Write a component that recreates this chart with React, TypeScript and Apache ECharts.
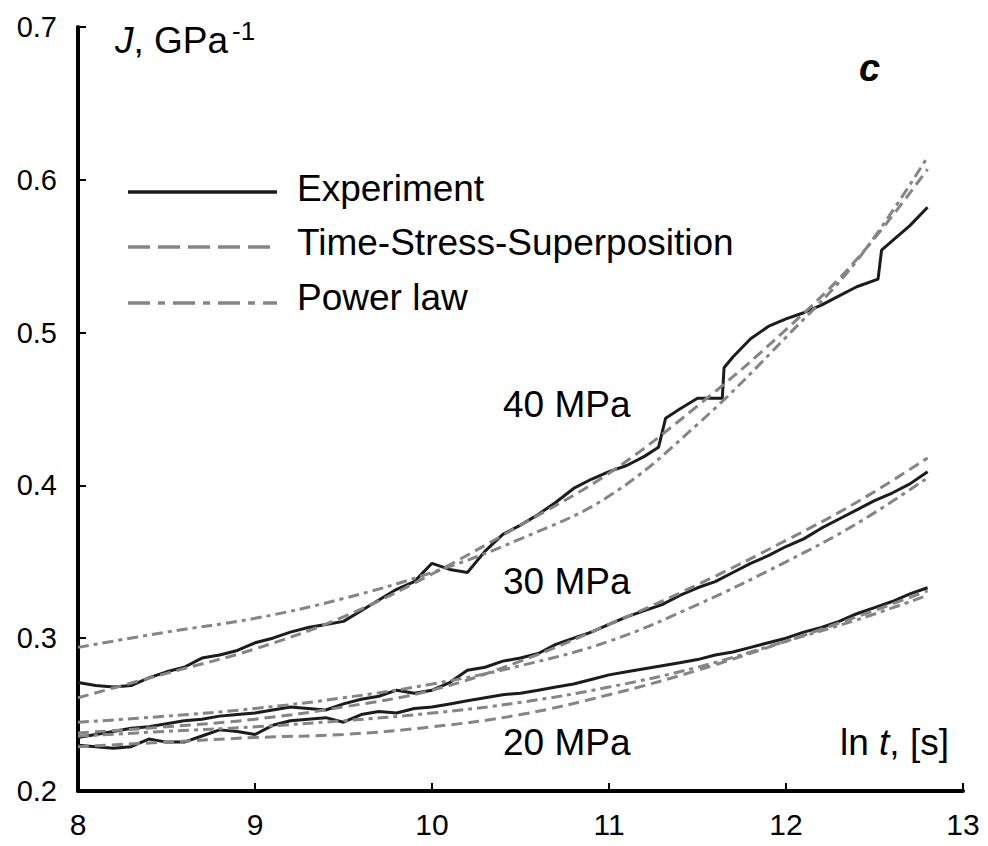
import React, { useEffect, useRef } from "react";
import * as echarts from "echarts";

const FONT = '"Liberation Sans", Arial, Helvetica, sans-serif';

// x (ln t) grid of the experimental records
const expX = [8.0, 8.1, 8.2, 8.3, 8.4, 8.5, 8.6, 8.7, 8.8, 8.9, 9.0, 9.1, 9.2, 9.3, 9.4, 9.5, 9.6, 9.7, 9.8, 9.9,
  10.0, 10.1, 10.2, 10.3, 10.4, 10.5, 10.6, 10.7, 10.8, 10.9, 11.0, 11.1, 11.2, 11.3, 11.4, 11.5, 11.6, 11.7, 11.8, 11.9,
  12.0, 12.1, 12.2, 12.3, 12.4, 12.5, 12.6, 12.7, 12.8];

// 40 MPa experiment has its own grid (steps in the record)
const exp40X = [8.0, 8.1, 8.2, 8.3, 8.4, 8.5, 8.6, 8.7, 8.8, 8.9, 9.0, 9.1, 9.2, 9.3, 9.4, 9.5, 9.6, 9.7, 9.8, 9.9,
  10.0, 10.1, 10.2, 10.3, 10.4, 10.5, 10.6, 10.7, 10.8, 10.9, 11.0, 11.1, 11.2, 11.28, 11.32, 11.4, 11.5, 11.64, 11.65,
  11.7, 11.8, 11.9, 12.0, 12.1, 12.2, 12.3, 12.4, 12.52, 12.54, 12.6, 12.7, 12.8];
const exp40 = [0.271, 0.269, 0.268, 0.269, 0.274, 0.278, 0.281, 0.287, 0.289, 0.292, 0.297, 0.300, 0.304, 0.307, 0.309,
  0.311, 0.318, 0.325, 0.332, 0.337, 0.349, 0.345, 0.343, 0.357, 0.368, 0.374, 0.381, 0.389, 0.398, 0.404, 0.409, 0.413,
  0.419, 0.425, 0.444, 0.450, 0.457, 0.457, 0.477, 0.484, 0.496, 0.504, 0.509, 0.513, 0.518, 0.524, 0.530, 0.535, 0.554,
  0.560, 0.570, 0.582];
const exp30 = [0.235, 0.237, 0.239, 0.241, 0.242, 0.244, 0.246, 0.247, 0.249, 0.250, 0.251, 0.253, 0.255, 0.254, 0.253,
  0.257, 0.260, 0.262, 0.266, 0.264, 0.266, 0.271, 0.279, 0.281, 0.285, 0.287, 0.290, 0.296, 0.300, 0.304, 0.309, 0.314,
  0.318, 0.322, 0.328, 0.333, 0.337, 0.343, 0.349, 0.354, 0.360, 0.365, 0.372, 0.378, 0.384, 0.390, 0.395, 0.401, 0.409];
const exp20 = [0.230, 0.229, 0.228, 0.229, 0.234, 0.232, 0.232, 0.236, 0.240, 0.239, 0.237, 0.243, 0.246, 0.247, 0.248,
  0.245, 0.250, 0.252, 0.251, 0.254, 0.255, 0.257, 0.259, 0.261, 0.263, 0.264, 0.266, 0.268, 0.270, 0.273, 0.276, 0.278,
  0.280, 0.282, 0.284, 0.286, 0.289, 0.291, 0.294, 0.297, 0.300, 0.304, 0.307, 0.311, 0.316, 0.320, 0.324, 0.329, 0.333];

// model curves
const fitX = [8, 8.5, 9, 9.5, 10, 10.5, 11, 11.5, 12, 12.4, 12.8];
const tss40 = [0.261, 0.277, 0.293, 0.314, 0.342, 0.374, 0.408, 0.452, 0.502, 0.548, 0.607];
const tss30 = [0.238, 0.242, 0.247, 0.255, 0.266, 0.285, 0.309, 0.335, 0.364, 0.389, 0.418];
const tss20 = [0.229, 0.232, 0.235, 0.237, 0.242, 0.250, 0.263, 0.279, 0.298, 0.314, 0.331];
const pow40 = [0.294, 0.304, 0.313, 0.326, 0.343, 0.365, 0.393, 0.440, 0.497, 0.547, 0.615];
const pow30 = [0.245, 0.249, 0.254, 0.261, 0.270, 0.282, 0.298, 0.322, 0.350, 0.375, 0.405];
const pow20 = [0.236, 0.239, 0.242, 0.246, 0.251, 0.258, 0.268, 0.281, 0.298, 0.312, 0.328];

const xTicks = [8, 9, 10, 11, 12, 13];
const yTicks = [0.2, 0.3, 0.4, 0.5, 0.6, 0.7];
const legendNames = ["Experiment", "Time-Stress-Superposition", "Power law"];
const stressLabels = ["40 MPa", "30 MPa", "20 MPa"];

const zip = (xs: number[], ys: number[]) => ys.map((y, i) => [xs[i], y]);

const BLACK = "#1c1c1c";
const GRAY = "#858585";
const TSS_DASH = [11, 6];
const POW_DASH = [11, 5, 4, 5];

export default function App() {
  const ref = useRef<HTMLDivElement>(null);
  useEffect(() => {
    document.body.style.margin = "0";
    const chart = echarts.init(ref.current!, undefined, { renderer: "svg" });
    const expStyle = { color: BLACK, width: 3 };
    const tssStyle = { color: GRAY, width: 3, type: TSS_DASH };
    const powStyle = { color: GRAY, width: 3, type: POW_DASH };
    const mk = (name: string, data: number[][], ls: any, smooth: boolean) => ({
      type: "line",
      name,
      data,
      showSymbol: false,
      symbol: "none",
      smooth: smooth ? 0.4 : false,
      lineStyle: ls,
      emphasis: { disabled: true },
    });
    const big = 37;
    chart.setOption({
      animation: false,
      grid: { left: 78, right: 25, top: 27, bottom: 55, containLabel: false },
      xAxis: {
        type: "value",
        min: xTicks[0],
        max: xTicks[xTicks.length - 1],
        interval: 1,
        axisLine: { lineStyle: { color: "#000", width: 4 } },
        axisTick: { inside: true, length: 8, lineStyle: { color: "#000", width: 2 } },
        splitLine: { show: false },
        axisLabel: { fontSize: 30, color: "#000", fontFamily: FONT, margin: 18 },
      },
      yAxis: {
        type: "value",
        min: yTicks[0],
        max: yTicks[yTicks.length - 1],
        interval: 0.1,
        axisLine: { show: true, lineStyle: { color: "#000", width: 4 } },
        axisTick: { show: true, inside: true, length: 8, lineStyle: { color: "#000", width: 2 } },
        splitLine: { show: false },
        axisLabel: {
          fontSize: 29,
          color: "#000",
          fontFamily: FONT,
          margin: 21,
          formatter: (v: number) => v.toFixed(1),
        },
      },
      series: [
        mk(legendNames[0], zip(exp40X, exp40), expStyle, false),
        mk(legendNames[0], zip(expX, exp30), expStyle, false),
        mk(legendNames[0], zip(expX, exp20), expStyle, false),
        mk(legendNames[1], zip(fitX, tss40), tssStyle, true),
        mk(legendNames[1], zip(fitX, tss30), tssStyle, true),
        mk(legendNames[1], zip(fitX, tss20), tssStyle, true),
        mk(legendNames[2], zip(fitX, pow40), powStyle, true),
        mk(legendNames[2], zip(fitX, pow30), powStyle, true),
        mk(legendNames[2], zip(fitX, pow20), powStyle, true),
      ],
      graphic: [
        // axis title J
        {
          type: "text",
          x: 115,
          y: 40,
          style: {
            text: "{i|J}, GPa",
            font: `${big}px ${FONT}`,
            fill: "#000",
            verticalAlign: "middle",
            rich: { i: { fontStyle: "italic", fontSize: big, fontFamily: FONT, fill: "#000" } },
          },
        },
        {
          type: "text",
          x: 232,
          y: 31,
          style: { text: "-1", font: `26px ${FONT}`, fill: "#000", verticalAlign: "middle" },
        },
        {
          type: "text",
          x: 859,
          y: 68,
          style: { text: "c", font: `italic bold 38px ${FONT}`, fill: "#000", verticalAlign: "middle" },
        },
        // legend
        { type: "line", shape: { x1: 128, y1: 192, x2: 277, y2: 192 }, style: { stroke: BLACK, lineWidth: 3.5 } },
        {
          type: "line",
          shape: { x1: 128, y1: 247, x2: 277, y2: 247 },
          style: { stroke: GRAY, lineWidth: 3.5, lineDash: [22, 8] },
        },
        {
          type: "line",
          shape: { x1: 128, y1: 303, x2: 277, y2: 303 },
          style: { stroke: GRAY, lineWidth: 3.5, lineDash: [22, 8, 7, 8] },
        },
        ...legendNames.map((n, i) => ({
          type: "text",
          x: 297,
          y: 188 + i * 54.6,
          style: { text: n, font: `${big}px ${FONT}`, fill: "#000", verticalAlign: "middle" },
        })),
        ...stressLabels.map((s, i) => ({
          type: "text",
          x: 503,
          y: [404, 581, 742][i],
          style: { text: s, font: `${big}px ${FONT}`, fill: "#000", verticalAlign: "middle" },
        })),
        {
          type: "text",
          x: 840,
          y: 742,
          style: {
            text: "ln {i|t}, [s]",
            font: `${big}px ${FONT}`,
            fill: "#000",
            verticalAlign: "middle",
            rich: { i: { fontStyle: "italic", fontSize: big, fontFamily: FONT, fill: "#000" } },
          },
        },
      ],
    });
    return () => chart.dispose();
  }, []);
  return <div ref={ref} style={{ width: 988, height: 846 }} />;
}
